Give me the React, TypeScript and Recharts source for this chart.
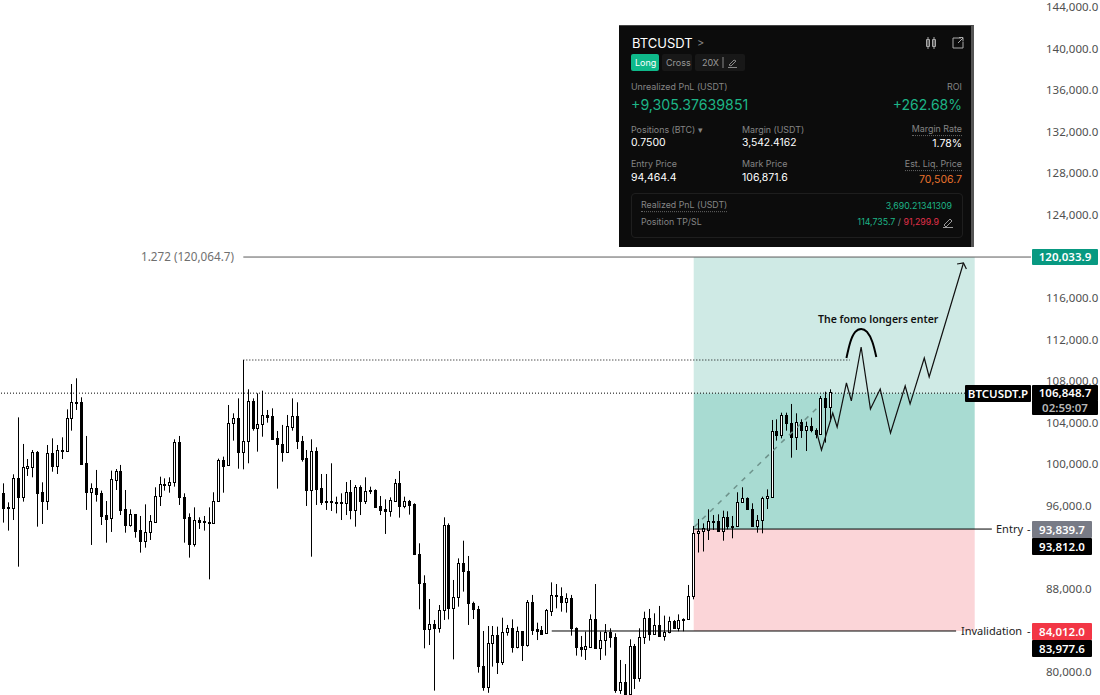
import { ComposedChart, Bar, Line, XAxis, YAxis, ReferenceArea, ReferenceLine } from 'recharts';

// 4h candles, one per slot starting at slot 0
const opens = [97100,95780,95720,98540,96780,99570,99660,101040,97230,96390,100950,99760,101270,101210,104320,105860,105860,99990,97260,97580,97130,95010,94690,98410,99220,95560,94080,95080,93540,92540,93350,94340,96810,97970,97930,98160,102010,96710,94790,92260,94500,94400,94340,94280,96330,100310,99790,103840,104320,101110,102100,105950,103420,103740,104600,104540,102390,101810,101110,103520,104540,102170,100470,97450,101170,97610,96330,96330,96270,96270,96200,97200,95530,97710,96390,97390,97390,95880,95560,95430,96390,98060,95910,96330,96040,91260,88440,84010,84490,84110,85840,94020,86030,87090,90360,89660,86580,86000,80510,78430,82730,83470,80900,83720,84110,82340,83820,82470,86610,84010,83950,83620,85810,87280,87190,86670,87030,84170,82340,82150,82340,84970,82250,82950,83790,83310,78170,78910,77800,82370,79360,83240,85070,83530,84400,83400,83750,84810,84140,84910,85000,87250,93250,93440,93570,94400,94400,93510,94790,93990,93950,96230,96620,95620,93990,94500,96620,96750,103100,102750,104640,103900,102550,103930,103190,103580,103190,102810,106240,105380];
const highs = [98060,96230,98930,104410,101850,100400,101270,101170,98160,101750,102390,101750,102490,105180,107620,108170,106340,102620,98060,99350,97360,96360,99280,99440,99830,97420,95560,95110,94920,96040,95010,97680,98700,98540,98640,102300,102620,97100,95170,95750,94790,94920,95750,97200,100440,100630,105600,104800,106240,109930,107110,106240,106720,106980,105120,105280,103100,103680,104640,106240,105860,102620,101270,102300,101530,98960,98960,99990,96780,97100,98190,98380,97900,97870,98640,97740,97480,96840,96520,96710,98480,99250,96780,96460,96140,92290,89210,86930,84910,86350,94790,94210,88760,90840,92540,91070,86670,86260,83850,84330,84330,84270,85130,84430,84970,84270,83850,86830,87320,84650,84330,85970,88530,88370,88050,87480,87320,84200,83370,83790,85450,88370,83790,84520,84110,83630,81060,80670,83050,82600,84110,85710,85970,85550,86260,85330,85230,84910,85450,85070,88280,93960,94630,94210,95560,95010,95080,95430,95370,94920,97200,97680,96710,96140,95010,96780,97480,104160,104220,104860,104860,105700,104800,104220,104000,104380,103360,106470,106880,107110];
const lows = [94280,93510,94530,90040,96300,98770,98640,93890,94150,95500,99180,98960,100400,101110,103130,105120,99830,95500,92130,96300,94050,92350,93380,97420,95010,93310,93890,92830,91390,91870,92610,94280,95880,97360,97160,97740,95980,92350,90910,91970,93670,93510,88820,94150,96300,97160,99760,102170,99470,99410,99990,103130,101110,102550,103900,102330,97550,100150,101050,103130,101360,100150,95880,91000,95980,95980,95500,95400,95170,94530,95010,94600,93890,95010,96070,97030,95750,95010,93190,94850,96300,94760,95660,95050,91160,85940,82180,82500,78110,83690,84910,84970,81120,86190,87640,84430,85000,79840,78100,77900,80420,79710,80580,83400,81770,82180,80960,82340,83470,82980,83470,83560,85290,86030,85710,85620,83400,81480,81380,81060,82250,82120,81060,81480,82250,77900,77800,77700,77700,78270,78970,82600,82920,83470,83400,82920,83630,84110,83820,83820,84970,86900,91400,91500,92610,93570,93470,92540,93630,92770,93890,96200,95590,93960,93310,93250,95590,96680,102170,102390,103130,100530,101270,102430,101170,102970,102390,102810,101980,104000];
const closes = [95720,95720,98540,96780,99600,99700,101040,97160,96390,100950,99730,101240,101210,104320,105860,105830,99950,97260,97580,97070,94950,94660,98450,99220,95500,94080,95080,93510,92540,93350,94400,96810,97970,97900,98160,102010,96710,94760,92260,94500,94370,94340,94280,96330,100310,99760,103840,104320,101110,102100,105950,103420,103740,104600,104480,102330,101810,101110,103580,104540,102170,100400,97450,101170,97550,96260,96270,96270,96200,96200,97200,95530,97710,96360,97290,97320,95780,95500,95430,96420,98060,95910,96330,96010,91260,88440,84010,84490,84110,85840,94020,86030,87090,90360,89660,86580,86000,80510,78430,82730,83470,80900,83720,84110,82340,83820,82470,86610,83950,83880,83560,85840,87280,87220,86670,87030,84170,82340,82150,82410,84970,82250,82950,83790,83310,78170,78910,77800,82370,79360,83240,85070,83530,84400,83400,83750,84810,84140,84910,85000,87250,93250,93440,93800,94400,94370,93510,94790,93990,93950,96230,96620,95620,93990,94500,96620,96840,103100,102750,104640,103900,102550,103930,103190,103580,103190,102810,106240,105380,106850];

// 84k, 92k and 120k sit behind the price tags, so they are not listed
const priceTicks = [80000,88000,96000,100000,104000,108000,112000,116000,124000,128000,132000,136000,140000,144000];

// hand drawn projection: slots and prices
const zigzagSlots = [166,167.1,169.4,170.3,172.2,173.2,175.2,177.1,179.1,181.2,184.2,185.2,188.1,189.1,196.1];
const zigzagPrices = [103190,101270,104830,103480,107720,105990,111180,105220,107140,102900,107430,105700,110120,108300,119270];
const arrowSlots = [194.8,196.1,196.7];
const arrowPrices = [119170,119270,118690];
const arcSlots = [172.2,173,174,175.2,176.4,177.5,178.3];
const arcPrices = [110120,111660,112630,112920,112630,111660,110220];
const trendSlots = [141.1,166.2];
const trendPrices = [93860,105310];

// levels as they sit on the picture
const TP = 119840;
const LAST = 106740;
const ENTRY = 93660;
const STOP = 83850;
const HIGH = 109930;

const rows = opens.map((o, i) => ({ i, o, h: highs[i], l: lows[i], c: closes[i] }));
const pts = (xs: number[], ys: number[]) => xs.map((i, k) => ({ i, p: ys[k] }));

function Candle(props: any) {
  const { x, y, width, height, payload } = props;
  const top = Math.min(y, y + height);
  const k = Math.abs(height) / (payload.h - payload.l);
  const col = Math.round(x + width / 2 - 0.5);
  const up = payload.c >= payload.o;
  const bodyTop = Math.round(top + (payload.h - Math.max(payload.o, payload.c)) * k);
  const bodyBot = Math.round(top + (payload.h - Math.min(payload.o, payload.c)) * k);
  return (
    <g>
      <line x1={col + 0.5} x2={col + 0.5} y1={top} y2={top + Math.abs(height)} stroke="#000" strokeWidth={1} />
      <rect
        x={col - 0.5}
        y={bodyTop + 0.5}
        width={2}
        height={Math.max(bodyBot - bodyTop, 1)}
        fill={up ? '#fff' : '#000'}
        stroke="#000"
        strokeWidth={1}
      />
    </g>
  );
}

function PriceTick({ x, y, payload }: any) {
  return (
    <text x={x} y={y + 1} dy="0.355em" fill="#4f4f4f" fontSize={11.5} fontFamily={UI}>
      {payload.value.toLocaleString('en-US', { minimumFractionDigits: 1 })}
    </text>
  );
}

const UI = '"Noto Sans", sans-serif';
const CARD = 'Inter, "Noto Sans", sans-serif';

function T(props: any) {
  const { x, y, right, size = 10, color = '#fff', weight = 400, font = CARD, under, children } = props;
  const style: any = {
    position: 'absolute',
    top: y,
    transform: 'translateY(-50%)',
    fontFamily: font,
    fontSize: size,
    color,
    fontWeight: weight,
    lineHeight: 1.1,
    whiteSpace: 'nowrap',
  };
  if (right !== undefined) style.right = 1100 - right;
  else style.left = x;
  if (under) {
    style.borderBottom = '1px dotted #666';
    style.paddingBottom = 1;
  }
  return <div style={style}>{children}</div>;
}

function Tag({ x, y, w, h, bg, text, color = '#fff' }: any) {
  return (
    <div
      style={{
        position: 'absolute',
        left: x,
        top: y,
        width: w,
        height: h,
        background: bg,
        color,
        fontFamily: UI,
        fontSize: 11.5,
        fontWeight: 600,
        lineHeight: h + 'px',
        textAlign: 'center',
        borderRadius: 1,
        whiteSpace: 'nowrap',
      }}
    >
      {text}
    </div>
  );
}

function PositionCard() {
  const gray = '#858585';
  const green = '#1db587';
  return (
    <div
      style={{
        position: 'absolute',
        left: 619,
        top: 25,
        width: 352,
        height: 221,
        background: '#0c0c0c',
        borderRight: '3px solid #555',
        borderTop: '1px solid #444',
      }}
    >
      <div style={{ position: 'absolute', left: -619, top: -26, width: 1100, height: 695 }}>
        <T x={632} y={43} size={13}>BTCUSDT</T>
        <T x={697} y={43} size={11} color={gray}>&gt;</T>
        <svg style={{ position: 'absolute', left: 925, top: 36 }} width={40} height={14} fill="none" stroke="#aaa">
          <path d="M3 1v12M3 3.500h-1.500v7h3v-7zM9 1v12M9 3.500h-1.500v7h3v-7z" />
          <path d="M36 2h-8v10h10V6M33 7l5-5M34 1.500h4v4" />
        </svg>
        <div style={{ position: 'absolute', left: 631, top: 54, width: 28, height: 17, background: '#0fb98a', borderRadius: 2 }} />
        <T x={635} y={62.500} size={9}>Long</T>
        <div style={{ position: 'absolute', left: 662, top: 54, width: 30, height: 17, background: '#181818', borderRadius: 2 }} />
        <T x={666} y={62.500} size={9} color="#999">Cross</T>
        <div style={{ position: 'absolute', left: 695, top: 54, width: 50, height: 17, background: '#181818', borderRadius: 2 }} />
        <T x={702} y={62.500} size={9} color="#999">20X</T>
        <svg style={{ position: 'absolute', left: 722, top: 56 }} width={20} height={13} fill="none" stroke="#888">
          <path d="M1 1v11M7 9l5-5 2 1-5 5zM6 11.500h9" />
        </svg>

        <T x={631} y={87} size={8.900} color={gray}>Unrealized PnL (USDT)</T>
        <T right={962} y={87} size={8.900} color={gray}>ROI</T>
        <T x={631} y={105} size={14.200} color={green}>+9,305.37639851</T>
        <T right={962} y={105} size={14} color={green}>+262.68%</T>

        <T x={631} y={130} size={8.900} color={gray}>Positions (BTC) ▾</T>
        <T x={631} y={143} size={10.500}>0.7500</T>
        <T x={742} y={130} size={8.900} color={gray}>Margin (USDT)</T>
        <T x={742} y={143} size={10.300}>3,542.4162</T>
        <T right={962} y={130} size={8.900} color={gray} under>Margin Rate</T>
        <T right={962} y={144} size={10.500}>1.78%</T>

        <T x={631} y={164} size={8.900} color={gray}>Entry Price</T>
        <T x={631} y={178} size={10.500}>94,464.4</T>
        <T x={742} y={164} size={8.900} color={gray}>Mark Price</T>
        <T x={742} y={178} size={10.500}>106,871.6</T>
        <T right={962} y={165} size={8.900} color={gray} under>Est. Liq. Price</T>
        <T right={962} y={180} size={10.500} color="#e8722c">70,506.7</T>

        <div style={{ position: 'absolute', left: 631, top: 193, width: 330, height: 43, border: '1px solid #1e1e1e', borderRadius: 4 }} />
        <T x={641} y={206} size={8.800} color={gray} under>Realized PnL (USDT)</T>
        <T right={952} y={206} size={8.800} color={green}>3,690.21341309</T>
        <T x={641} y={222} size={8.800} color={gray}>Position TP/SL</T>
        <T right={939} y={222} size={8.800} color={green}>
          114,735.7 <span style={{ color: '#888' }}>/</span> <span style={{ color: '#e0304a' }}>91,299.9</span>
        </T>
        <svg style={{ position: 'absolute', left: 942, top: 216 }} width={12} height={12} fill="none" stroke="#999">
          <path d="M2 9l6-6 2 2-6 6zM1 11.500h10" />
        </svg>
      </div>
    </div>
  );
}

export default function App() {
  return (
    <div style={{ position: 'absolute', left: 0, top: 0, width: 1100, height: 695, overflow: 'hidden', background: '#fff' }}>
      <ComposedChart width={1100} height={695} data={rows} margin={{ top: 0, right: 0, bottom: 0, left: 1 }}>
        <XAxis dataKey="i" type="number" domain={[-0.5, 209.9]} hide allowDataOverflow />
        <YAxis
          orientation="right"
          width={69}
          domain={[77690, 144577]}
          ticks={priceTicks}
          allowDataOverflow
          axisLine={false}
          tickLine={false}
          tickMargin={9}
          interval={0}
          tick={<PriceTick />}
        />

        <ReferenceArea x1={141} x2={198.4} y1={LAST} y2={TP} fill="#cfeae5" fillOpacity={1} stroke="none" />
        <ReferenceArea x1={141} x2={198.4} y1={ENTRY} y2={LAST} fill="#a8dbd2" fillOpacity={1} stroke="none" />
        <ReferenceArea x1={141} x2={198.4} y1={STOP} y2={ENTRY} fill="#fbd5d8" fillOpacity={1} stroke="none" />

        <ReferenceLine segment={[{ x: -0.5, y: LAST }, { x: 196.9, y: LAST }]} stroke="#000" strokeDasharray="1 2" ifOverflow="visible" />
        <ReferenceLine segment={[{ x: 49, y: HIGH }, { x: 172.9, y: HIGH }]} stroke="#000" strokeDasharray="1 2" ifOverflow="visible" />
        <ReferenceLine segment={[{ x: 49, y: TP }, { x: 209.9, y: TP }]} stroke="#5a5a5a" ifOverflow="visible" />
        <ReferenceLine segment={[{ x: 141.1, y: ENTRY }, { x: 201.9, y: ENTRY }]} stroke="#000" ifOverflow="visible" />
        <ReferenceLine segment={[{ x: 112, y: STOP }, { x: 194.6, y: STOP }]} stroke="#000" ifOverflow="visible" />

        <Line data={pts(trendSlots, trendPrices)} dataKey="p" stroke="#6e938c" strokeWidth={1.5} strokeDasharray="5 6" dot={false} isAnimationActive={false} legendType="none" />

        <Bar dataKey={(d: any) => [d.l, d.h]} barSize={3} shape={<Candle />} isAnimationActive={false} legendType="none" />

        <Line data={pts(zigzagSlots, zigzagPrices)} dataKey="p" stroke="#111" strokeWidth={1.2} dot={false} isAnimationActive={false} legendType="none" />
        <Line data={pts(arrowSlots, arrowPrices)} dataKey="p" stroke="#111" strokeWidth={1.2} dot={false} isAnimationActive={false} legendType="none" />
        <Line data={pts(arcSlots, arcPrices)} type="natural" dataKey="p" stroke="#000" strokeWidth={2} dot={false} isAnimationActive={false} legendType="none" />
      </ComposedChart>

      <PositionCard />

      <T x={141} y={256} size={11.700} color="#6f6f6f" font={UI}>1.272 (120,064.7)</T>
      <T x={818} y={320} size={10.500} color="#111" weight={600} font={UI}>The fomo longers enter</T>
      <T x={996} y={529} size={11} color="#222" font={UI}>Entry</T>
      <T x={1027} y={529} size={11} color="#222" font={UI}>-</T>
      <T x={961} y={631} size={11} color="#222" font={UI}>Invalidation</T>
      <T x={1027} y={631} size={11} color="#222" font={UI}>-</T>

      <Tag x={1032} y={249} w={66} h={16} bg="#089981" text="120,033.9" />
      <Tag x={965} y={385} w={66} h={17} bg="#000" text="BTCUSDT.P" />
      <Tag x={1032} y={385} w={66} h={16} bg="#000" text="106,848.7" />
      <Tag x={1032} y={400} w={66} h={15} bg="#000" text="02:59:07" color="#b5b5b5" />
      <Tag x={1032} y={521} w={60} h={17} bg="#787b86" text="93,839.7" />
      <Tag x={1032} y={538} w={60} h={17} bg="#000" text="93,812.0" />
      <Tag x={1032} y={623} w={60} h={17} bg="#f23645" text="84,012.0" />
      <Tag x={1032} y={640} w={60} h={17} bg="#000" text="83,977.6" />
    </div>
  );
}
